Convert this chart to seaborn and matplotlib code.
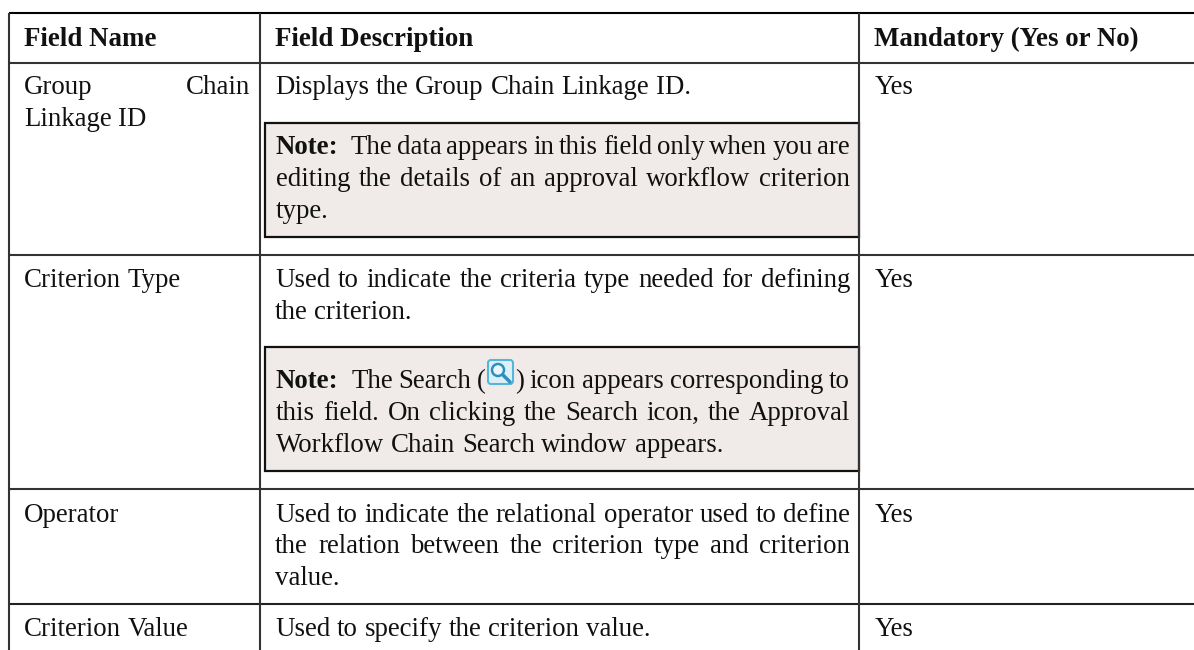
import matplotlib
matplotlib.use("Agg")
import matplotlib.pyplot as plt
from matplotlib.patches import Rectangle, FancyBboxPatch, Circle
import seaborn as sns

sns.set_theme(style="white")
plt.rcParams['font.family'] = ['Liberation Serif', 'DejaVu Serif']

headers = ["Field Name", "Field Description", "Mandatory (Yes or No)"]
field_names = [["Group Chain", "Linkage ID"], ["Criterion Type"], ["Operator"], ["Criterion Value"]]
mandatory = ["Yes", "Yes", "Yes", "Yes"]
descriptions = [
    ["Displays the Group Chain Linkage ID."],
    ["Used to indicate the criteria type needed for defining", "the criterion."],
    ["Used to indicate the relational operator used to define",
     "the relation between the criterion type and criterion", "value."],
    ["Used to specify the criterion value."],
]
note1 = ["The data appears in this field only when you are",
         "editing the details of an approval workflow criterion", "type."]
note2 = ["The Search (", ") icon appears corresponding to",
         "this field. On clicking the Search icon, the Approval",
         "Workflow Chain Search window appears."]

FS = 19.35
INK = "#111111"
fig = plt.figure(figsize=(11.94, 6.5), dpi=100)
ax = fig.add_axes([0, 0, 1, 1])
ax.set_xlim(0, 1194)
ax.set_ylim(650, 0)
ax.axis("off")
r = fig.canvas.get_renderer()


def width(s, weight="normal"):
    t = ax.text(0, 0, s, fontsize=FS, fontweight=weight)
    b = t.get_window_extent(r)
    t.remove()
    return b.width


def line(x0, y, s, x1=None, prefix=None):
    """Draw one line word by word; stretch the gaps when x1 is given."""
    words = s.split(" ")
    items = ([(prefix, "bold")] if prefix else []) + [(w, "normal") for w in words]
    ws = [width(w, wt) for w, wt in items]
    gap = FS * 100 / 72 * 0.25
    gaps = [gap] * (len(items) - 1)
    if prefix:
        gaps[0] = gap * 2
    if x1 is not None and len(items) > 1:
        extra = (x1 - x0 - sum(ws) - sum(gaps)) / len(gaps)
        gaps = [g + extra for g in gaps]
    x = x0
    for i, (w, wt) in enumerate(items):
        ax.text(x, y, w, fontsize=FS, fontweight=wt, color=INK, va="baseline", ha="left")
        x += ws[i] + (gaps[i] if i < len(gaps) else 0)


# note boxes
for top, bottom in [(123, 237), (347, 471)]:
    ax.add_patch(Rectangle((265, top), 594, bottom - top, fc="#F0EBE9", ec="#111111", lw=1.6, zorder=1))

# table rules
for y, c in [(13, "black"), (63, "#333333"), (255, "#333333"), (489, "#333333"), (604, "#222222")]:
    ax.hlines(y, 9, 1194, color=c, lw=1.5, zorder=2)
for x in [9, 260, 859]:
    ax.vlines(x, 13, 650, color="#333333", lw=1.5, zorder=2)

# header
for x, h in zip([24, 275, 874], headers):
    ax.text(x, 46, h, fontsize=FS, fontweight="bold", color=INK, va="baseline")

# rows
line(24, 94, field_names[0][0], 250)
line(24, 126, field_names[0][1])
line(24, 287, field_names[1][0])
line(24, 522, field_names[2][0])
line(24, 636, field_names[3][0])
for y, m in zip([94, 287, 522, 636], mandatory):
    ax.text(875, y, m, fontsize=FS, color=INK, va="baseline")

line(275, 94, descriptions[0][0])
line(275, 287, descriptions[1][0], 850)
line(275, 319, descriptions[1][1])
line(275, 522, descriptions[2][0], 850)
line(275, 553, descriptions[2][1], 850)
line(275, 585, descriptions[2][2])
line(275, 636, descriptions[3][0])

line(276, 154, note1[0], 850, prefix="Note:")
line(276, 186, note1[1], 850)
line(276, 218, note1[2])

line(276, 388, note2[0], 486, prefix="Note:")
line(515, 388, note2[1], 850)
line(276, 420, note2[2], 850)
line(276, 452, note2[3])

# search icon
ax.add_patch(FancyBboxPatch((488, 360), 25, 24, boxstyle="round,pad=0,rounding_size=3",
                            fc="#DDF0F8", ec="#55B5DA", lw=1.5, zorder=3))
ax.add_patch(Circle((498, 370), 6, fc="#EAF6FB", ec="#2E8FBF", lw=1.8, zorder=4))
ax.plot([503, 510], [375, 382], color="#2E8FBF", lw=2.5, zorder=4)

fig.savefig("out.png", dpi=100)
